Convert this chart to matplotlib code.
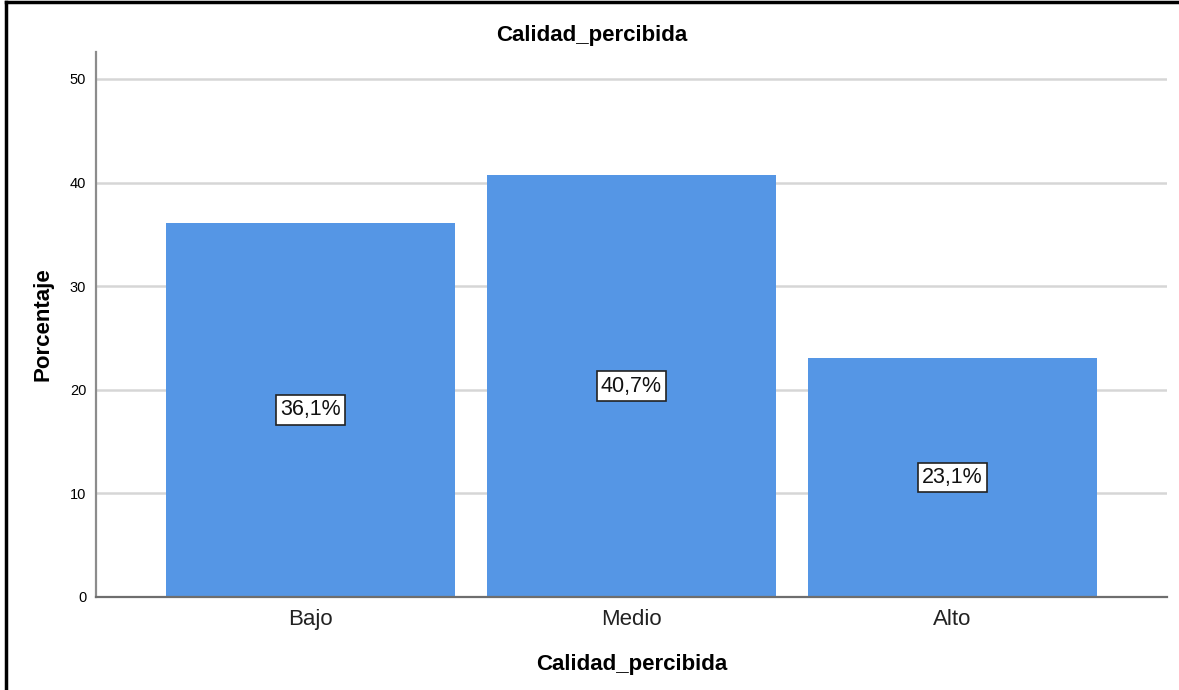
import matplotlib.pyplot as plt
from matplotlib.lines import Line2D
import numpy as np

plt.rcParams['font.family'] = ['Liberation Sans', 'DejaVu Sans']

categorias = ['Bajo', 'Medio', 'Alto']
porcentajes = [36.1, 40.7, 23.1]
etiquetas = ['36,1%', '40,7%', '23,1%']
yticks = [0, 10, 20, 30, 40, 50]

fig = plt.figure(figsize=(11.79, 6.90), dpi=100)
ax = fig.add_axes([0.0814, 0.1348, 0.9084, 0.7898])

x = np.arange(len(categorias))
ax.bar(x, porcentajes, width=0.9, color='#5596e5', zorder=2)

# Value labels in boxes at mid-height of each bar
for xi, v, t in zip(x, porcentajes, etiquetas):
    ax.text(xi, v / 2, t, ha='center', va='center', fontsize=15.5, zorder=3,
            color='#111111',
            bbox=dict(boxstyle='square,pad=0.2', fc='white', ec='#222222', lw=1.2))

ax.set_xlim(-0.668, 2.668)
ax.set_ylim(0, 52.6)
ax.set_yticks(yticks)
ax.set_yticklabels([str(t) for t in yticks], fontsize=10.5)
ax.set_xticks(x)
ax.set_xticklabels(categorias, fontsize=16, color='#222222')
ax.tick_params(axis='both', length=0)
ax.tick_params(axis='y', pad=7)
ax.tick_params(axis='x', pad=9)

for yv in yticks[1:]:
    ax.axhline(yv, color='#d6d6d6', lw=1.8, zorder=1)

for s in ['top', 'right']:
    ax.spines[s].set_visible(False)
ax.spines['left'].set_color('#8c8c8c')
ax.spines['bottom'].set_color('#6e6e6e')
ax.spines['left'].set_linewidth(1.6)
ax.spines['bottom'].set_linewidth(1.6)

ax.set_xlabel('Calidad_percibida', fontsize=16, fontweight='bold', labelpad=17)
ax.set_ylabel('Porcentaje', fontsize=16, fontweight='bold', labelpad=12)
fig.text(0.502, 0.948, 'Calidad_percibida', ha='center', va='center',
         fontsize=16, fontweight='bold')

# frame lines on left and top edges
fig.add_artist(Line2D([6 / 1179, 6 / 1179], [0, 1 - 2 / 690], color='black', lw=2.5,
                      transform=fig.transFigure))
fig.add_artist(Line2D([6 / 1179, 1], [1 - 2 / 690, 1 - 2 / 690], color='black', lw=2.5,
                      transform=fig.transFigure))

fig.savefig('out.png', dpi=100)
